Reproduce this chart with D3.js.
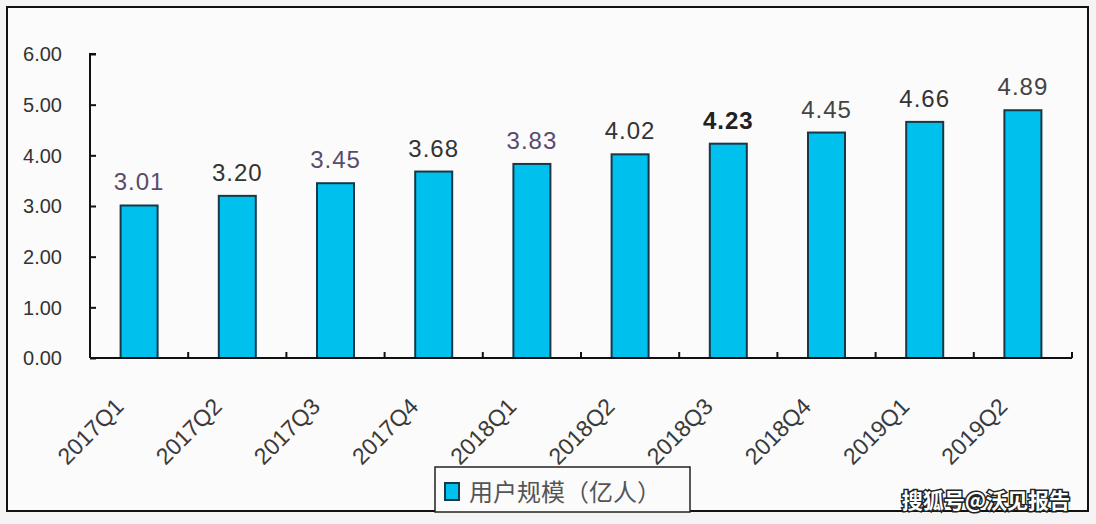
<!DOCTYPE html>
<html><head><meta charset="utf-8">
<script src="https://cdn.jsdelivr.net/npm/d3@7"></script>
<style>
html,body{margin:0;padding:0;background:#f4f4f4;}
svg{display:block;}
</style></head><body>
<svg id="c" width="1096" height="524"></svg>
<script>
const categories = ["2017Q1","2017Q2","2017Q3","2017Q4","2018Q1","2018Q2","2018Q3","2018Q4","2019Q1","2019Q2"];
const values = [3.01,3.20,3.45,3.68,3.83,4.02,4.23,4.45,4.66,4.89];
const yTicks = [0,1,2,3,4,5,6];
const labelColors = ["#5b4a6e","#333","#5b4a6e","#333","#5b4a6e","#333","#222","#444","#333","#444"];
const labelWeights = ["normal","normal","normal","normal","normal","normal","bold","normal","normal","normal"];
const seriesName = "用户规模（亿人）";
const watermark = "搜狐号@沃见报告";

const svg = d3.select("#c");
const font = "Arial, 'Liberation Sans', 'Noto Sans CJK SC', sans-serif";

svg.append("rect").attr("x",7).attr("y",7).attr("width",1081).attr("height",504)
  .attr("fill","#fbfbfb").attr("stroke","#111").attr("stroke-width",2);

const x = d3.scaleBand().domain(categories).range([90,1072]).paddingInner(0).paddingOuter(0);
const y = d3.scaleLinear().domain([0,6]).range([358,54]);

// bars
const bw = 37;
svg.append("g").selectAll("rect").data(values).join("rect")
  .attr("x",(d,i)=>x(categories[i])+x.bandwidth()/2-bw/2)
  .attr("y",d=>y(d))
  .attr("width",bw)
  .attr("height",d=>y(0)-y(d))
  .attr("fill","#00c0ee")
  .attr("stroke","#183848").attr("stroke-width",2);

// y axis
const yAxis = d3.axisRight(y).tickValues(yTicks).tickSize(6).tickFormat("");
const gy = svg.append("g").attr("transform","translate(90,0)").call(yAxis);
gy.select(".domain").attr("stroke","#111").attr("stroke-width",2).attr("d","M6,54H0V358");
gy.selectAll(".tick line").attr("stroke","#111").attr("stroke-width",2);
svg.append("g").selectAll("text").data(yTicks).join("text")
  .attr("x",62).attr("y",d=>y(d)).attr("dy","0.36em")
  .attr("text-anchor","end").attr("font-family",font).attr("font-size",20)
  .attr("fill","#333").text(d=>d3.format(".2f")(d));

// x axis
const gx = svg.append("g").attr("transform","translate(0,358)");
gx.append("line").attr("x1",90).attr("x2",1072).attr("stroke","#111").attr("stroke-width",2);
const bounds = categories.map(c=>x(c)+x.bandwidth());
gx.selectAll(".tk").data(bounds).join("line").attr("class","tk")
  .attr("x1",d=>d).attr("x2",d=>d).attr("y1",0).attr("y2",-6)
  .attr("stroke","#111").attr("stroke-width",2);

// x labels
svg.append("g").selectAll("text").data(categories).join("text")
  .attr("transform",c=>`translate(${x(c)+x.bandwidth()/2-14},${408}) rotate(-45)`)
  .attr("text-anchor","end").attr("font-family",font).attr("font-size",23)
  .attr("fill","#3a3a3a").text(c=>c);

// value labels
svg.append("g").selectAll("text").data(values).join("text")
  .attr("x",(d,i)=>x(categories[i])+x.bandwidth()/2)
  .attr("y",d=>y(d)-15)
  .attr("text-anchor","middle").attr("font-family",font).attr("font-size",24)
  .attr("letter-spacing",1)
  .attr("font-weight",(d,i)=>labelWeights[i])
  .attr("fill",(d,i)=>labelColors[i]).text(d=>d3.format(".2f")(d));

// legend
const lg = svg.append("g");
lg.append("rect").attr("x",435).attr("y",467).attr("width",255).attr("height",45)
  .attr("fill","#fbfbfb").attr("stroke","#222").attr("stroke-width",1.5);
lg.append("rect").attr("x",445).attr("y",483).attr("width",14).attr("height",17)
  .attr("fill","#00c0ee").attr("stroke","#183848").attr("stroke-width",2);
lg.append("text").attr("x",469).attr("y",501).attr("font-family","'Noto Sans CJK SC', sans-serif")
  .attr("font-size",24).attr("fill","#555").text(seriesName);

// watermark
svg.append("text").attr("x",1070).attr("y",508).attr("text-anchor","end")
  .attr("font-family","'Noto Sans CJK SC', sans-serif").attr("font-size",21).attr("font-weight","bold")
  .attr("fill","#fff").attr("stroke","#222").attr("stroke-width",3).attr("paint-order","stroke")
  .text(watermark);
</script>
</body></html>
